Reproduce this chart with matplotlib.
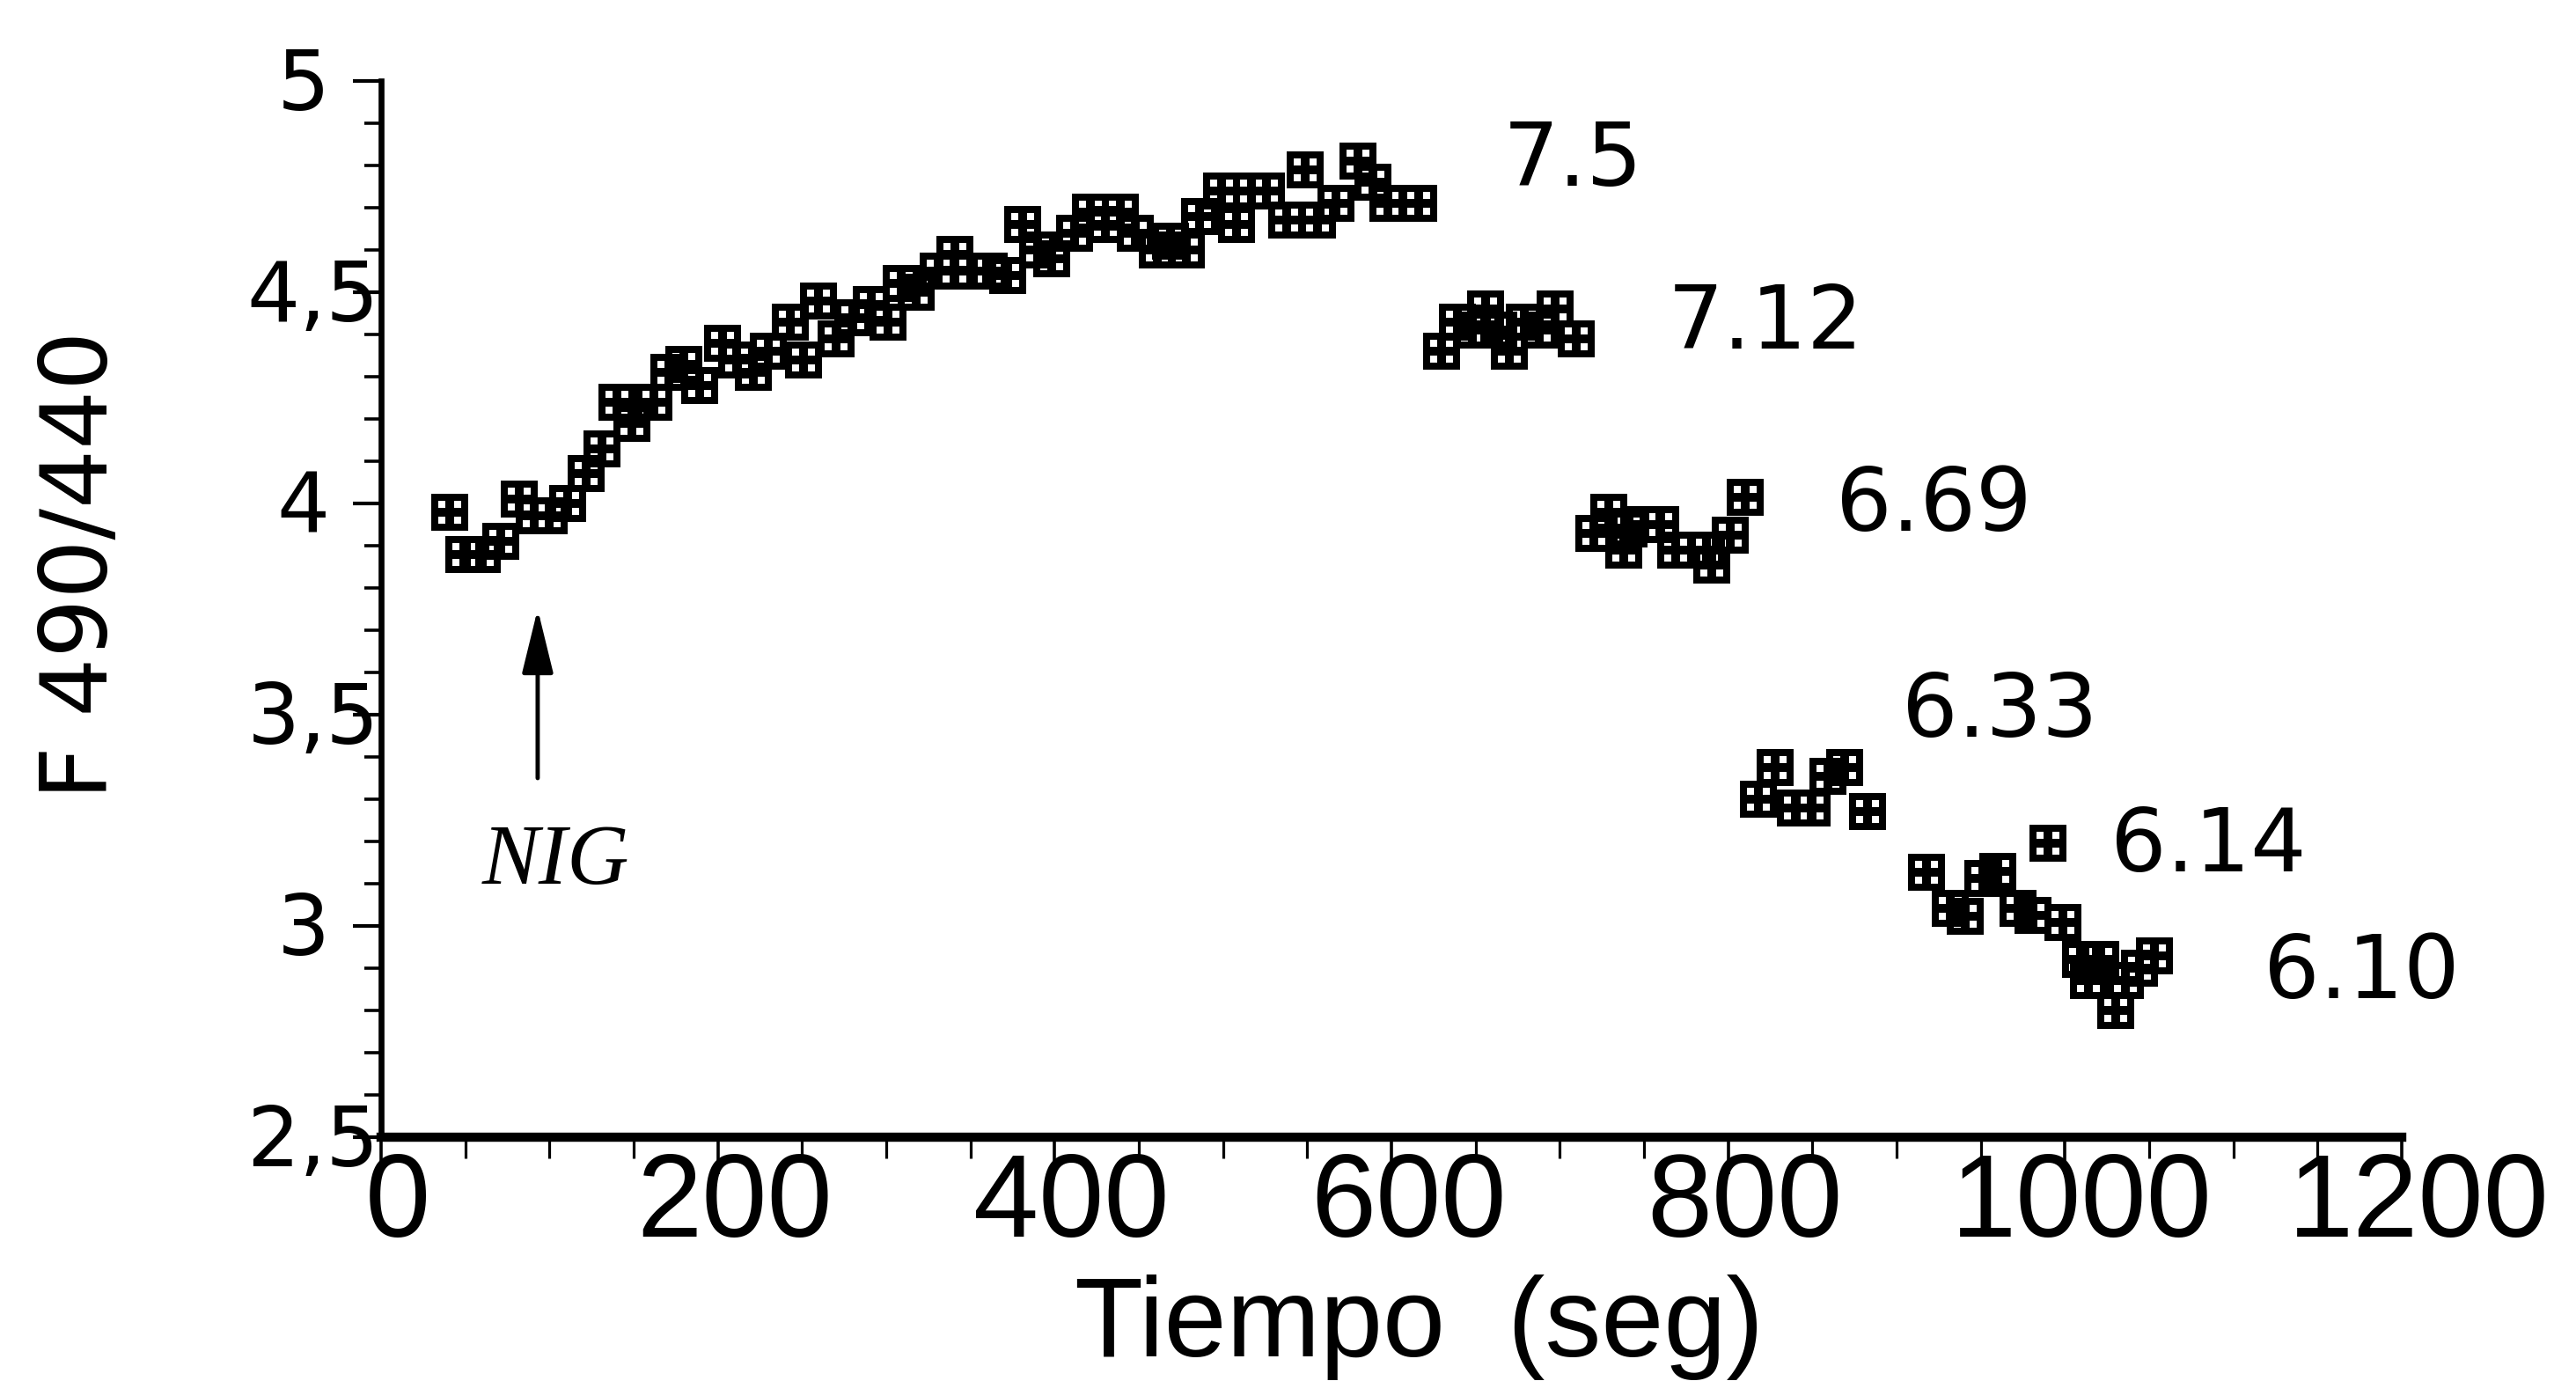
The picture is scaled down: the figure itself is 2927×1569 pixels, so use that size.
import numpy as np
import matplotlib
matplotlib.use("Agg")
import matplotlib.pyplot as plt
from matplotlib.path import Path
from matplotlib.ticker import MultipleLocator
from matplotlib.transforms import blended_transform_factory

# ---------------- data ----------------
t_75 = [41, 49, 60, 71, 82, 91, 100, 111, 122, 131, 140, 149, 162, 171, 180, 189,
        203, 211, 221, 230, 243, 251, 260, 270, 280, 291, 301, 309, 318, 331, 341,
        350, 361, 372, 381, 390, 398, 412, 421, 430, 439, 448, 461, 469, 478, 486,
        499, 508, 517, 526, 538, 549, 556, 567, 580, 589, 598, 607, 616]
f_75 = [3.98, 3.88, 3.88, 3.91, 4.01, 3.97, 3.97, 4.00, 4.07, 4.13, 4.24, 4.19,
        4.24, 4.31, 4.33, 4.28, 4.38, 4.34, 4.31, 4.36, 4.43, 4.34, 4.48, 4.39,
        4.44, 4.47, 4.43, 4.52, 4.50, 4.55, 4.59, 4.55, 4.55, 4.54, 4.66, 4.60,
        4.58, 4.64, 4.69, 4.66, 4.69, 4.64, 4.60, 4.62, 4.60, 4.68, 4.74, 4.66,
        4.74, 4.74, 4.67, 4.79, 4.67, 4.71, 4.81, 4.76, 4.71, 4.71, 4.71]

t_712 = [630, 639, 648, 656, 664, 670, 679, 688, 697, 710]
f_712 = [4.36, 4.43, 4.41, 4.46, 4.41, 4.36, 4.43, 4.41, 4.46, 4.39]

t_669 = [720, 729, 738, 741, 750, 760, 769, 778, 787, 790, 801, 810]
f_669 = [3.93, 3.98, 3.89, 3.94, 3.95, 3.95, 3.89, 3.89, 3.89, 3.855, 3.925, 4.015]

t_633 = [818, 828, 840, 850, 859, 869, 883]
f_633 = [3.30, 3.375, 3.28, 3.28, 3.355, 3.375, 3.27]

t_614 = [918, 932, 941, 951, 960, 972, 981, 990, 999]
f_614 = [3.127, 3.042, 3.023, 3.112, 3.129, 3.042, 3.025, 3.196, 3.008]

t_610 = [1009, 1014, 1021, 1030, 1036, 1044, 1053]
f_610 = [2.92, 2.87, 2.92, 2.80, 2.87, 2.90, 2.93]

ph_labels = ["7.5", "7.12", "6.69", "6.33", "6.14", "6.10"]
ph_label_x = [666, 764, 864, 903, 1027, 1118]
ph_label_y = [4.825, 4.439, 4.007, 3.52, 3.201, 2.901]

x_ticks = [0, 200, 400, 600, 800, 1000, 1200]
x_tick_labels = ["0", "200", "400", "600", "800", "1000", "1200"]
y_ticks = [2.5, 3.0, 3.5, 4.0, 4.5, 5.0]
y_tick_labels = ["2,5", "3", "3,5", "4", "4,5", "5"]

x_label = "Tiempo  (seg)"
y_label = "F 490/440"
nig_label = "NIG"
nig_x = 93
nig_tail, nig_tip = 3.35, 3.75

segments = [(t_75, f_75), (t_712, f_712), (t_669, f_669),
            (t_633, f_633), (t_614, f_614), (t_610, f_610)]


# ---------------- marker: black square with 2x2 white holes ----------------
def grid_square_marker(b=0.19, m=0.22):
    h = (1 - 2 * b - m) / 2
    verts, codes = [], []
    outer = [(-0.5, -0.5), (0.5, -0.5), (0.5, 0.5), (-0.5, 0.5), (-0.5, -0.5)]
    verts += outer
    codes += [Path.MOVETO] + [Path.LINETO] * 3 + [Path.CLOSEPOLY]
    lows = [-0.5 + b, 0.5 - b - h]
    for x0 in lows:
        for y0 in lows:
            sq = [(x0, y0), (x0, y0 + h), (x0 + h, y0 + h), (x0 + h, y0), (x0, y0)]
            verts += sq
            codes += [Path.MOVETO] + [Path.LINETO] * 3 + [Path.CLOSEPOLY]
    return Path(verts, codes)


marker = grid_square_marker()

W, H, DPI = 2927, 1569, 100
fig = plt.figure(figsize=(W / DPI, H / DPI), dpi=DPI)
fig.patch.set_facecolor("white")

ax_left, ax_right, ax_top, ax_bottom = 433, 2729, 92, 1292
ax = fig.add_axes([ax_left / W, 1 - ax_bottom / H,
                   (ax_right - ax_left) / W, (ax_bottom - ax_top) / H])

for t, f in segments:
    ax.plot(t, f, linestyle="none", marker=marker, markersize=30.5,
            color="black", markeredgewidth=0, clip_on=False)

ax.set_xlim(0, 1200)
ax.set_ylim(2.5, 5.0)

for s in ["top", "right"]:
    ax.spines[s].set_visible(False)
ax.spines["left"].set_linewidth(4.8)
ax.spines["bottom"].set_linewidth(7.5)

ax.xaxis.set_major_locator(MultipleLocator(200))
ax.xaxis.set_minor_locator(MultipleLocator(50))
ax.yaxis.set_major_locator(MultipleLocator(0.5))
ax.yaxis.set_minor_locator(MultipleLocator(0.1))
ax.tick_params(axis="x", which="major", length=30, width=2.6, direction="out",
               labelbottom=False)
ax.tick_params(axis="x", which="minor", length=17, width=2.3, direction="out")
ax.tick_params(axis="y", which="major", length=23, width=3.0, direction="out",
               labelleft=False)
ax.tick_params(axis="y", which="minor", length=13.5, width=2.6, direction="out")

LBL = "DejaVu Sans"

# y tick labels (integer labels sit one cell further left, as in the reference)
ytrans = blended_transform_factory(ax.transAxes, ax.transData)
for v, lab in zip(y_ticks, y_tick_labels):
    xr = -0.001 if "," in lab else -0.0255
    ax.text(xr, v - 0.068, lab, transform=ytrans, ha="right", va="baseline",
            family=LBL, fontsize=68, color="black")

# x tick labels
xtrans = blended_transform_factory(ax.transData, ax.transAxes)
for v, lab in zip(x_ticks, x_tick_labels):
    ax.text(v + 10, -0.013, lab, transform=xtrans, ha="center", va="top",
            family="Liberation Sans", fontsize=96, color="black")

# axis titles
fig.text(1612 / W, 1 - 1541 / H, x_label, ha="center", va="baseline",
         family="Liberation Sans", fontsize=92, color="black")
fig.text(93 / W, 1 - 642 / H, y_label, rotation=90, ha="center", va="center",
         family=LBL, fontsize=76, color="black")

# pH annotations
for lab, x, y in zip(ph_labels, ph_label_x, ph_label_y):
    ax.text(x, y - 0.072, lab, ha="left", va="baseline",
            family=LBL, fontsize=72, color="black")

# NIG arrow + label
ax.annotate("", xy=(nig_x, nig_tip), xytext=(nig_x, nig_tail),
            arrowprops=dict(arrowstyle="-|>,head_length=0.45,head_width=0.11",
                            lw=3.5, color="black", mutation_scale=100,
                            shrinkA=0, shrinkB=0))
ax.text(103.5, 3.16 - 0.06, nig_label, ha="center", va="baseline",
        family="Liberation Serif", style="italic", fontsize=70, color="black")

fig.savefig("out.png", dpi=DPI, facecolor="white")
